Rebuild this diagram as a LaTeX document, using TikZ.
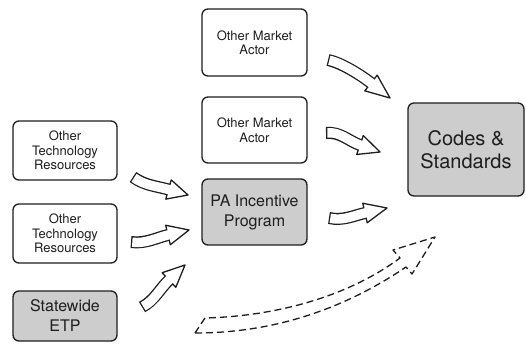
\documentclass[tikz,border=0pt]{standalone}
\usepackage{fontspec}
\setmainfont{TeX Gyre Heros}
\usetikzlibrary{calc}
\definecolor{boxgray}{RGB}{205,205,205}
\definecolor{ink}{RGB}{30,30,30}
\tikzset{
  box/.style={draw=ink, line width=1.3pt, rounded corners=6pt, align=center, text=ink, inner sep=0pt},
  small/.style={font=\fontsize{13}{14.5}\selectfont},
  mid/.style={font=\fontsize{16}{20}\selectfont},
  big/.style={font=\fontsize{20}{23}\selectfont},
  shaded/.style={fill=boxgray},
  dasharrow/.style={draw=ink, line width=1.3pt, dash pattern=on 7pt off 4pt, line join=round},
}
\newcommand{\blockarr}[4]{%
  \draw[ink, line width=12pt] (#1) .. controls (#2) and ($(#3)!-12pt!(#4)$) .. (#3) -- ($(#3)!3pt!(#4)$);
  \filldraw[fill=white, draw=ink, line width=1.3pt, line join=round] ($(#3)!10pt!90:(#4)$) -- (#4) -- ($(#3)!10pt!-90:(#4)$) -- cycle;
  \draw[white, line width=9.4pt, shorten <=1.3pt] (#1) .. controls (#2) and ($(#3)!-12pt!(#4)$) .. (#3) -- ($(#3)!3pt!(#4)$);
}
\begin{document}
\begin{tikzpicture}[x=1pt,y=-1pt]
\useasboundingbox[fill=white] (0,0) rectangle (526,343);
% boxes
\node[box, small, minimum width=104pt, minimum height=59pt] (otr1) at (65,150.5) {Other\\Technology\\Resources};
\node[box, small, minimum width=104pt, minimum height=59pt] (otr2) at (65,233.5) {Other\\Technology\\Resources};
\node[box, mid, shaded, minimum width=104pt, minimum height=50pt] (etp) at (65,316) {Statewide\\ETP};
\node[box, small, minimum width=105pt, minimum height=67pt] (oma1) at (254.5,42.5) {Other Market\\Actor};
\node[box, small, minimum width=105pt, minimum height=66pt] (oma2) at (254.5,130) {Other Market\\Actor};
\node[box, mid, shaded, minimum width=105pt, minimum height=66pt] (pa) at (254.5,212) {PA Incentive\\Program};
\node[box, big, shaded, minimum width=116pt, minimum height=93pt] (cs) at (466,149.5) {Codes \&\\Standards};
% arrow coordinates
\coordinate (a1s) at (133,177); \coordinate (a1c) at (144.5,185.5); \coordinate (a1b) at (168.5,189.5); \coordinate (a1t) at (188,195);
\coordinate (a2s) at (131,242); \coordinate (a2c) at (145,244); \coordinate (a2b) at (168,235); \coordinate (a2t) at (189,230);
\coordinate (a3s) at (142,307); \coordinate (a3c) at (154,301); \coordinate (a3b) at (169,280); \coordinate (a3t) at (185,265);
\coordinate (a4s) at (328,60); \coordinate (a4c) at (342,63); \coordinate (a4b) at (371,83); \coordinate (a4t) at (390,98);
\coordinate (a5s) at (326,133); \coordinate (a5c) at (340,131.5); \coordinate (a5b) at (360,145); \coordinate (a5t) at (380,152);
\coordinate (a6s) at (329,218); \coordinate (a6c) at (343,221); \coordinate (a6b) at (365,213); \coordinate (a6t) at (387,208);
\blockarr{a1s}{a1c}{a1b}{a1t}
\blockarr{a2s}{a2c}{a2b}{a2t}
\blockarr{a3s}{a3c}{a3b}{a3t}
\blockarr{a4s}{a4c}{a4b}{a4t}
\blockarr{a5s}{a5c}{a5b}{a5t}
\blockarr{a6s}{a6c}{a6b}{a6t}
% dashed arrow
\coordinate (d1) at (195,333); \coordinate (d2) at (406,267); \coordinate (d3) at (412,274);
\coordinate (dt) at (435,237); \coordinate (d4) at (393,250); \coordinate (d5) at (400,258);
\coordinate (d6) at (205,318);
\draw[dasharrow] (d1) .. controls (280,333) and (350,305) .. (d2) -- (d3) -- (dt) -- (d4) -- (d5) .. controls (350,295) and (280,316) .. (d6) -- cycle;
\end{tikzpicture}
\end{document}
